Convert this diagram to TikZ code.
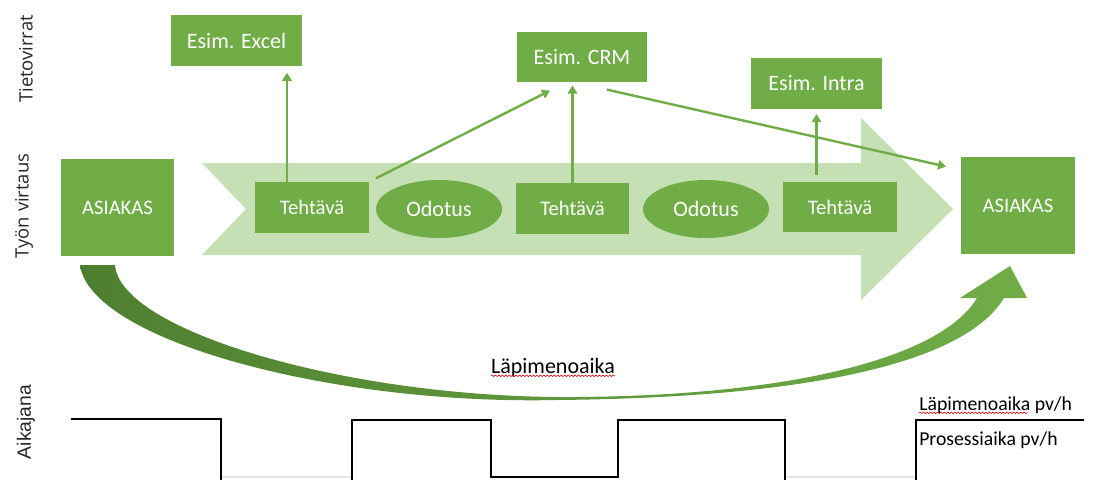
\documentclass[tikz,border=0pt]{standalone}
\usepackage{fontspec}
\setmainfont{Carlito}
\newfontfamily\sideff{Open Sans}
\newfontfamily\arialff{Liberation Sans}
\usetikzlibrary{shapes.geometric,arrows.meta,decorations.pathmorphing,calc}
\definecolor{gr}{HTML}{70AD47}
\definecolor{grdark}{HTML}{4E7F30}
\definecolor{grlight}{HTML}{C5E0B4}
\begin{document}
\begin{tikzpicture}[x=0.75pt,y=-0.75pt,
  box/.style={rectangle,fill=gr,text=white,inner sep=0pt,font=\fontsize{16.5}{18}\selectfont},
  taskbox/.style={box,minimum width=85pt,minimum height=38pt,font=\fontsize{15.5}{18}\selectfont},
  infobox/.style={box,minimum width=98pt,minimum height=38pt},
  custbox/.style={box,minimum width=85pt,minimum height=73pt,font=\fontsize{15.5}{18}\selectfont},
  waitoval/.style={ellipse,fill=gr,text=white,inner sep=0pt,minimum width=94.5pt,minimum height=43.5pt,font=\fontsize{16.5}{18}\selectfont},
  flow/.style={draw=gr,line width=1.8pt,-{Triangle[width=7pt,length=6pt]}},
  tline/.style={draw=black,line width=2.2pt},
  sidelabel/.style={rotate=90,inner sep=0pt,font=\sideff\fontsize{13.8}{16}\selectfont,text=black!85},
  wavy/.style={draw=red!85!black,line width=0.45pt,decorate,decoration={snake,amplitude=0.55pt,segment length=2.6pt}}]

\useasboundingbox (0,0) rectangle (1109,479);

% big light arrow (work flow band)
\fill[grlight] (202,163) -- (861,163) -- (861,118) -- (953,209) -- (861,300) -- (861,255) -- (202,255) -- (246,209) -- cycle;

% curved lead-time arrow
\shade[left color=grdark,right color=gr]
  (80,265) .. controls (90,340) and (330,405) .. (556,400)
  .. controls (780,398) and (960,370) .. (1004,298)
  -- (1027,298) -- (1010,266) -- (960,298) -- (977,298)
  .. controls (940,360) and (780,398) .. (556,397)
  .. controls (340,395) and (120,330) .. (115,265) -- cycle;

% side labels
\node[sidelabel] (lbl1) at (26,59) {Tietovirrat};
\node[sidelabel] (lbl2) at (24,206) {Työn virtaus};
\node[sidelabel,font=\arialff\fontsize{14.5}{16}\selectfont] (lbl3) at (26,422) {Aikajana};

% information systems
\node[infobox] (excel) at (236.5,40.5) {Esim. Excel};
\node[infobox] (crm) at (582,57) {Esim. CRM};
\node[infobox] (intra) at (816.5,83.5) {Esim. Intra};

% customers
\node[custbox] (asL) at (117.5,207.5) {ASIAKAS};
\node[custbox] (asR) at (1018,205.5) {ASIAKAS};

% tasks and waits
\node[taskbox] (t1) at (312,207.5) {Tehtävä};
\node[waitoval] (o1) at (439,209) {Odotus};
\node[taskbox] (t2) at (572.5,208.5) {Tehtävä};
\node[waitoval] (o2) at (706,209) {Odotus};
\node[taskbox] (t3) at (840,207) {Tehtävä};

% information flows
\coordinate (xa) at (287,0);
\draw[flow,shorten >=5pt] (t1.north -| xa) -- (excel.south -| xa);
\draw[flow,shorten <=6pt] (t1.north east) -- ([xshift=-24pt,yshift=-6pt]crm.south);
\draw[flow,shorten >=2.2pt] (t2.north) -- (t2.north |- crm.south);
\draw[flow] ([xshift=18.75pt,yshift=-5.25pt]crm.south) -- ([xshift=-11.25pt,yshift=-7.5pt]asR.north west);
\draw[flow,shorten <=5pt,shorten >=3.75pt] (intra.south |- t3.north) -- (intra.south);

% lead time label
\node[anchor=base,inner sep=0pt,font=\fontsize{16.5}{18}\selectfont] (lead) at (553,373) {Läpimenoaika};
\draw[wavy] (lead.base west) ++(0,2.8) coordinate (wl1) -- (lead.base east |- wl1);

% timeline
\draw[gray!20,line width=0.9pt] (221,477) -- (352,477) (785,477) -- (916,477);
\draw[tline] (71,419) -- (221,419) -- (221,483);
\draw[tline] (352,483) -- (352,420) -- (491,420) -- (491,477) -- (618,477) -- (618,420) -- (785,420) -- (785,483);
\draw[tline] (916,483) -- (916,420) -- (1084,420);

\node[anchor=base west,inner sep=0pt,font=\fontsize{14.8}{17}\selectfont] (lt) at (919,410) {Läpimenoaika pv/h};
\node[anchor=base west,inner sep=0pt,font=\fontsize{14.8}{17}\selectfont] (pt) at (919,445) {Prosessiaika pv/h};
\path (lt.base west) ++(0,2.8) coordinate (wl2);
\draw[wavy] (wl2) -- ++(109,0);
\end{tikzpicture}
\end{document}
